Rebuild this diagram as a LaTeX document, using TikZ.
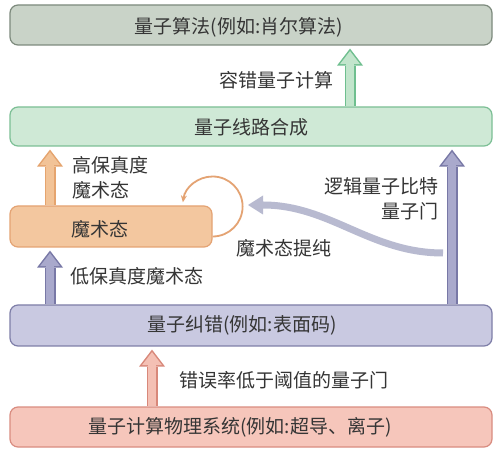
\documentclass[tikz,border=0pt]{standalone}
\usepackage{fontspec}
\setmainfont{Noto Sans CJK SC}
\usepackage{xcolor}
\usepackage{tikz}
\usetikzlibrary{arrows.meta}
\definecolor{algofill}{HTML}{C9D3C8}
\definecolor{algoline}{HTML}{7D8A7D}
\definecolor{synfill}{HTML}{CFE9D6}
\definecolor{synline}{HTML}{7CBF95}
\definecolor{magicfill}{HTML}{F3C79F}
\definecolor{magicline}{HTML}{E4A373}
\definecolor{qecfill}{HTML}{C9C9E1}
\definecolor{qecline}{HTML}{7E7EA8}
\definecolor{physfill}{HTML}{F6C6BB}
\definecolor{physline}{HTML}{D98C80}
\definecolor{greenarrow}{HTML}{C2E5CC}
\definecolor{greenedge}{HTML}{6FBF8F}
\definecolor{orangearrow}{HTML}{F2C397}
\definecolor{orangeedge}{HTML}{E5A46E}
\definecolor{purplearrow}{HTML}{A9A9CC}
\definecolor{purpleedge}{HTML}{7878A6}
\definecolor{pinkarrow}{HTML}{F4C0B4}
\definecolor{pinkedge}{HTML}{D8887A}
\definecolor{wavegray}{HTML}{B8BAD0}
\definecolor{txt}{HTML}{353535}

\begin{document}
\begin{tikzpicture}[x=1pt,y=1pt,font=\fontsize{19}{25}\selectfont,
    box/.style 2 args={draw=#1,fill=#2,rectangle,rounded corners=8pt,line width=1.2pt,minimum width=482pt},
    bigarrow/.style 2 args={draw=#2,line width=8pt,shorten >=5.5pt,
        -{Triangle[length=13pt,width=20pt,line width=0pt]},
        preaction={draw=#1,line width=11pt,shorten >=3pt,-{Triangle[length=17pt,width=26pt,line width=0pt]}}},
    lbl/.style={inner sep=0pt,text=txt}]
            \useasboundingbox[fill=white] (0,0) rectangle (500,455);
            \node[box={algoline}{algofill},minimum height=40pt] (1) at (251,430) {};
            \node[box={synline}{synfill},minimum height=39pt] (2) at (251,328.5) {};
            \node[box={magicline}{magicfill},minimum width=202pt,minimum height=41pt] (3) at (111,228.5) {};
            \node[box={qecline}{qecfill},minimum height=41pt] (4) at (251,129.5) {};
            \node[box={physline}{physfill},minimum height=40pt] (5) at (251,28) {};
            \node[lbl] (6) at (239,428) {量子算法(例如:肖尔算法)};
            \node[lbl] (7) at (251,328) {量子线路合成};
            \node[lbl] (8) at (100,226) {魔术态};
            \node[lbl] (9) at (242,130) {量子纠错(例如:表面码)};
            \node[lbl] (10) at (240,28) {量子计算物理系统(例如:超导、离子)};
            \draw[bigarrow={greenedge}{greenarrow}] ([xshift=99pt]2.north) -- ([xshift=99pt]1.south);
            \draw[bigarrow={orangeedge}{orangearrow}] ([xshift=-61pt]3.north) -- ([xshift=-201pt]2.south);
            \draw[bigarrow={purpleedge}{purplearrow}] ([xshift=-201pt]4.north) -- ([xshift=-61pt]3.south);
            \draw[bigarrow={purpleedge}{purplearrow}] ([xshift=201pt]4.north) -- ([xshift=201pt]2.south);
            \draw[bigarrow={pinkedge}{pinkarrow}] ([xshift=-99pt]5.north) -- ([xshift=-99pt]4.south);
            \draw[magicline,line width=1.8pt,-{Stealth[length=7pt,width=6pt]}] ([yshift=-10pt]3.east) arc[start angle=-90,end angle=172,radius=30pt];
            \coordinate (11) at (443,202);
            \coordinate (12) at (248,250);
            \draw[wavegray,line width=7pt,-{Triangle[length=15pt,width=19pt,line width=0pt]}] (11) .. controls (370,202) and (330,250) .. (12);
            \node[lbl] (13) at (276.5,375) {容错量子计算};
            \node[lbl,align=left,anchor=west] (14) at (72,277.5) {高保真度\\魔术态};
            \node[lbl,align=right,anchor=east] (15) at (439,256.5) {逻辑量子比特\\量子门};
            \node[lbl] (16) at (283.5,207) {魔术态提纯};
            \node[lbl] (17) at (136.5,179) {低保真度魔术态};
            \node[lbl] (18) at (284,75) {错误率低于阈值的量子门};
        \end{tikzpicture}
\end{document}
